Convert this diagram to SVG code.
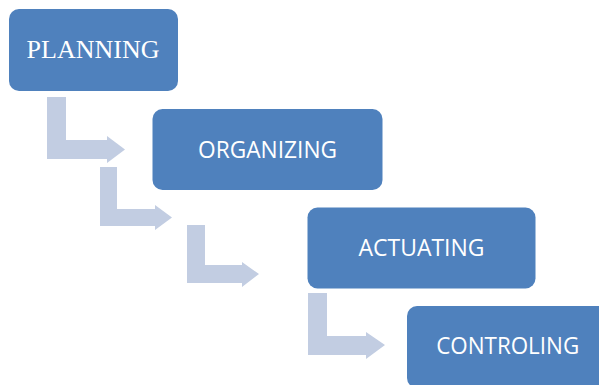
<svg xmlns="http://www.w3.org/2000/svg" width="599" height="385" viewBox="0 0 599 385">
<style>
.box{fill:#4F81BD;}
.arr{fill:#C2CDE2;}
.lbl{fill:#FFFFFF;font-family:"Open Sans","Liberation Sans",Arial,sans-serif;font-size:23px;text-anchor:middle;}
.serif{font-family:"Liberation Serif","Times New Roman",serif;font-size:26px;}
</style>
<rect width="599" height="385" fill="#FFFFFF"/>
<g id="connectors">
<path class="arr" d="M47,97 L66,97 L66,140 L107,140 L107,136 L125,149.5 L107,163 L107,159 L47,159 Z"/>
<path class="arr" d="M100,167 L117,167 L117,209 L155,209 L155,205 L172,217.5 L155,230 L155,226 L100,226 Z"/>
<path class="arr" d="M187,225 L205,225 L205,265 L242,265 L242,262 L259,274 L242,287 L242,283 L187,283 Z"/>
<path class="arr" d="M308,293 L327,293 L327,336 L366,336 L366,332 L385,345 L366,359 L366,355 L308,355 Z"/>
</g>
<g id="planning">
<rect class="box" x="9" y="9" width="169" height="82" rx="10"/>
<text class="lbl serif" x="93" y="57.5">PLANNING</text>
</g>
<g id="organizing">
<rect class="box" x="152.5" y="109" width="230" height="81" rx="10"/>
<text class="lbl" x="267.5" y="158" textLength="139" lengthAdjust="spacingAndGlyphs">ORGANIZING</text>
</g>
<g id="actuating">
<rect class="box" x="307.5" y="207.5" width="228" height="81" rx="10"/>
<text class="lbl" x="421.5" y="256" textLength="126" lengthAdjust="spacingAndGlyphs">ACTUATING</text>
</g>
<g id="controling">
<rect class="box" x="407" y="306" width="202" height="82" rx="10"/>
<text class="lbl" x="507.7" y="354.3" textLength="143" lengthAdjust="spacingAndGlyphs">CONTROLING</text>
</g>
</svg>
